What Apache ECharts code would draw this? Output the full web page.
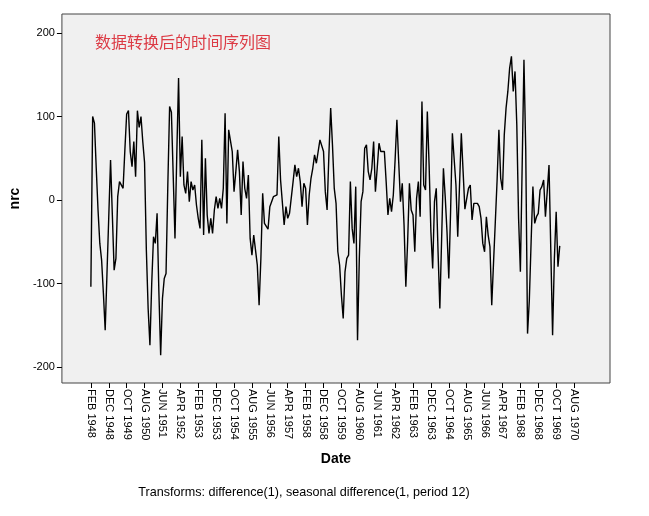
<!DOCTYPE html>
<html><head><meta charset="utf-8">
<script src="https://cdn.jsdelivr.net/npm/echarts@6/dist/echarts.min.js"></script>
<style>html,body{margin:0;padding:0;background:#fff}#c{width:649px;height:516px}</style>
</head><body><div id="c"></div>
<script>
// Monthly values, FEB 1948 .. DEC 1969 (index 0 = FEB 1948)
const nrc = [
-104,100,92,38,-12,-52,-72,-112,-156,-88,
-20,48,-18,-84,-70,4,22,24,14,60,
103,107,58,40,70,28,107,87,100,70,
45,-60,-130,-174,-100,-44,-52,-16,-110,-186,
-118,-94,-88,18,112,105,30,-46,54,146,
28,76,18,8,34,-2,22,12,18,-6,
-22,-34,72,-42,50,-18,-40,-22,-40,-12,
4,-10,2,-10,14,104,-28,84,82,58,
10,34,60,34,-18,46,14,2,30,-46,
-66,-42,-44,-78,-126,-70,8,-28,-30,-35,
-8,-6,4,2,6,76,24,22,-30,-8,
-22,-16,-14,22,42,28,38,22,-8,20,
14,-30,6,26,38,54,44,42,72,70,
58,10,-12,54,110,66,14,-4,-62,-78,
-114,-142,-86,-70,-66,22,-34,-52,16,-168,
-70,-2,10,62,66,34,24,38,70,10,
38,68,58,56,58,22,-18,2,-14,6,
48,96,46,-2,20,-30,-104,-50,20,-12,
-18,-62,2,22,-20,118,18,12,106,42,
-38,-82,-2,14,-62,-130,-46,38,4,-38,
-94,-14,80,80,18,-44,18,80,34,-11,
-11,14,18,-24,-4,-2,-4,-8,-22,-52,
-62,-20,-42,-56,-126,-75,-26,24,84,26,
12,78,110,130,158,172,130,154,90,-22,
-86,-84,168,60,-160,-120,-50,16,-28,-20,
-16,12,16,24,-20,10,42,-60,-162,-70,
-14,-80,-55
];
const monthNames = ['JAN','FEB','MAR','APR','MAY','JUN','JUL','AUG','SEP','OCT','NOV','DEC'];
const startYear = 1948, startMonth = 1; // FEB 1948 (0-based month)
const xTickValues = [0,10,20,30,40,50,60,70,80,90,100,110,120,130,140,150,160,170,180,190,200,210,220,230,240,250,260,270];
const yTickValues = [-200,-100,0,100,200];
const titleText = '数据转换后的时间序列图';
const footText = 'Transforms: difference(1), seasonal difference(1, period 12)';

function monthLabel(i){
  const m = startMonth + i;
  return monthNames[((m % 12)+12)%12] + ' ' + (startYear + Math.floor(m/12));
}
const seriesData = nrc.map((v,i)=>[i,v]);

const chart = echarts.init(document.getElementById('c'), null, {renderer:'canvas'});
const font = 'Liberation Sans, Arial, sans-serif';
chart.setOption({
  animation:false,
  backgroundColor:'#ffffff',
  title:{
    text:titleText, left:90, top:29,
    textStyle:{color:'#DC3A44', fontSize:16, fontWeight:'normal', fontFamily:'Noto Sans CJK SC, sans-serif'}
  },
  graphic:[{
    type:'text', x:304, y:486,
    style:{text:footText, fill:'#000', font:'12.6px ' + font, textAlign:'center'}
  }],
  grid:{left:61, right:39, top:14, bottom:133, show:true, backgroundColor:'#F0F0F0', borderColor:'#444444', borderWidth:1},
  xAxis:{
    type:'value', min:-16.18, max:290.08,
    splitLine:{show:false},
    axisLine:{show:false, onZero:false},
    axisTick:{show:true, customValues:xTickValues, length:5, lineStyle:{color:'#000'}},
    axisLabel:{customValues:xTickValues, rotate:-90, margin:6, color:'#000', fontSize:11, fontFamily:font,
      formatter:(v)=>monthLabel(Math.round(v))},
    name:'Date', nameLocation:'middle', nameGap:69,
    nameTextStyle:{fontSize:14, fontWeight:'bold', color:'#000', fontFamily:font}
  },
  yAxis:{
    type:'value', min:-219.16, max:222.75,
    splitLine:{show:false},
    axisLine:{show:false, onZero:false},
    axisTick:{show:true, customValues:yTickValues, length:5, lineStyle:{color:'#000'}},
    axisLabel:{customValues:yTickValues, margin:7, color:'#000', fontSize:11, fontFamily:font},
    name:'nrc', nameLocation:'middle', nameGap:39, nameRotate:90,
    nameTextStyle:{fontSize:14, fontWeight:'bold', color:'#000', fontFamily:font}
  },
  series:[{
    type:'line', data:seriesData, showSymbol:false, symbol:'none',
    lineStyle:{color:'#000', width:1.4}
  }]
});
</script></body></html>
